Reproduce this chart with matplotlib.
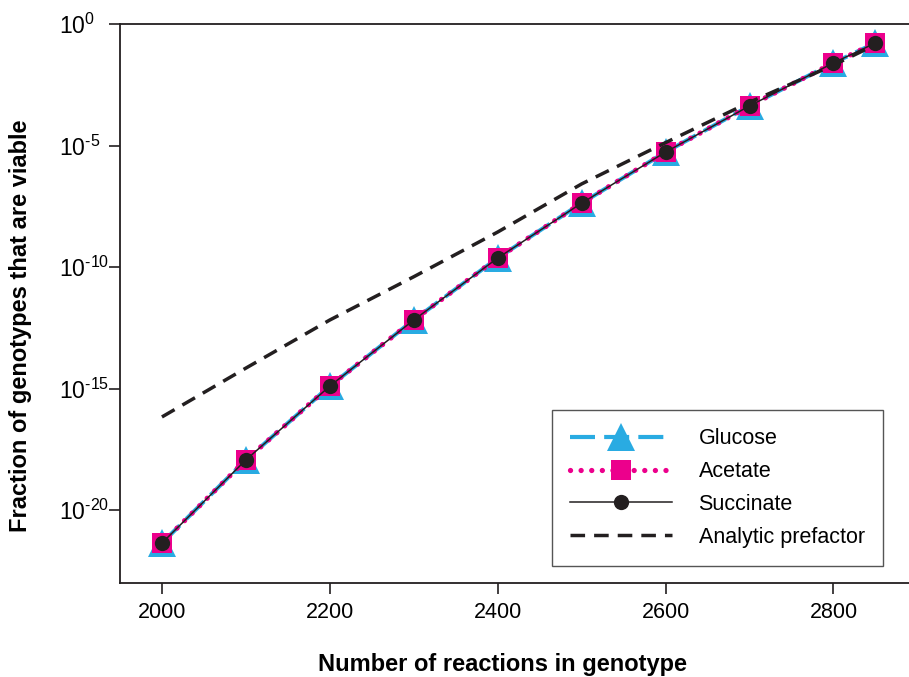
import numpy as np
import matplotlib.pyplot as plt
from matplotlib.ticker import FixedLocator, FuncFormatter

plt.rcParams['font.family'] = ['Liberation Sans', 'DejaVu Sans']
plt.rcParams['mathtext.fontset'] = 'custom'
plt.rcParams['mathtext.rm'] = 'Liberation Sans'

# data (log10 of fraction viable)
reactions = [2000, 2100, 2200, 2300, 2400, 2500, 2600, 2700, 2800, 2850]
glucose_log = [-21.36, -17.94, -14.90, -12.18, -9.63, -7.37, -5.27, -3.37, -1.60, -0.78]
acetate_log = [-21.36, -17.94, -14.90, -12.18, -9.63, -7.37, -5.27, -3.37, -1.60, -0.78]
succinate_log = [-21.36, -17.94, -14.90, -12.18, -9.63, -7.37, -5.27, -3.37, -1.60, -0.78]
prefactor_log = [-16.17, -14.16, -12.18, -10.40, -8.56, -6.58, -4.88, -3.22, -1.69, -0.85]

x = np.array(reactions)
glucose = 10.0 ** np.array(glucose_log)
acetate = 10.0 ** np.array(acetate_log)
succinate = 10.0 ** np.array(succinate_log)
prefactor = 10.0 ** np.array(prefactor_log)

blue = '#29abe2'
pink = '#ec008c'
dark = '#231f20'

fig = plt.figure(figsize=(9.09, 6.77), dpi=100)
ax = fig.add_axes([0.132, 0.139, 0.868, 0.8255])

ax.plot(x, glucose, color=blue, lw=3.0, dashes=(6, 2.2), marker='^', ms=20,
        markeredgewidth=0, label='Glucose')
ax.plot(x, acetate, color=pink, lw=3.8, dashes=(0.01, 2.0), dash_capstyle='round',
        marker='s', ms=14, markeredgewidth=0, label='Acetate')
ax.plot(x, succinate, color=dark, lw=1.1, marker='o', ms=11, markeredgewidth=0,
        label='Succinate')
ax.plot(x, prefactor, color=dark, lw=2.5, dashes=(4.2, 2.6), label='Analytic prefactor')

ax.set_yscale('log')
ax.set_ylim(1e-23, 1e0)
ax.set_xlim(1950, 2890)
ax.yaxis.set_major_locator(FixedLocator([1e0, 1e-5, 1e-10, 1e-15, 1e-20]))
ax.yaxis.set_minor_locator(FixedLocator([]))


def fmt(v, p):
    e = int(round(np.log10(v)))
    s = str(abs(e))
    if e < 0:
        s = '\u2010' + s
    return r'$\mathregular{10^{%s}}$' % s


ax.yaxis.set_major_formatter(FuncFormatter(fmt))
ax.set_xticks([2000, 2200, 2400, 2600, 2800])

ax.spines['right'].set_visible(False)
for s in ['left', 'top', 'bottom']:
    ax.spines[s].set_linewidth(1.3)
    ax.spines[s].set_color(dark)
ax.tick_params(axis='both', direction='out', length=8, width=1.2, color=dark)
ax.tick_params(axis='x', labelsize=15.5, pad=6)
ax.tick_params(axis='y', labelsize=16.5, pad=36)
plt.setp(ax.get_yticklabels(), ha='left')

ax.set_xlabel('Number of reactions in genotype', fontsize=17, fontweight='bold')
ax.set_ylabel('Fraction of genotypes that are viable', fontsize=17,
              fontweight='bold')
ax.xaxis.set_label_coords(0.485, -0.125)
ax.yaxis.set_label_coords(-0.1115, 0.46)

leg = ax.legend(loc='lower right', bbox_to_anchor=(0.967, 0.03), fontsize=15.5,
                handlelength=4.7, handletextpad=1.25, borderpad=0.85,
                labelspacing=0.55, fancybox=False, framealpha=1,
                edgecolor='#555555', borderaxespad=0)
leg.get_frame().set_linewidth(1.0)

fig.savefig('out.png', dpi=100)
